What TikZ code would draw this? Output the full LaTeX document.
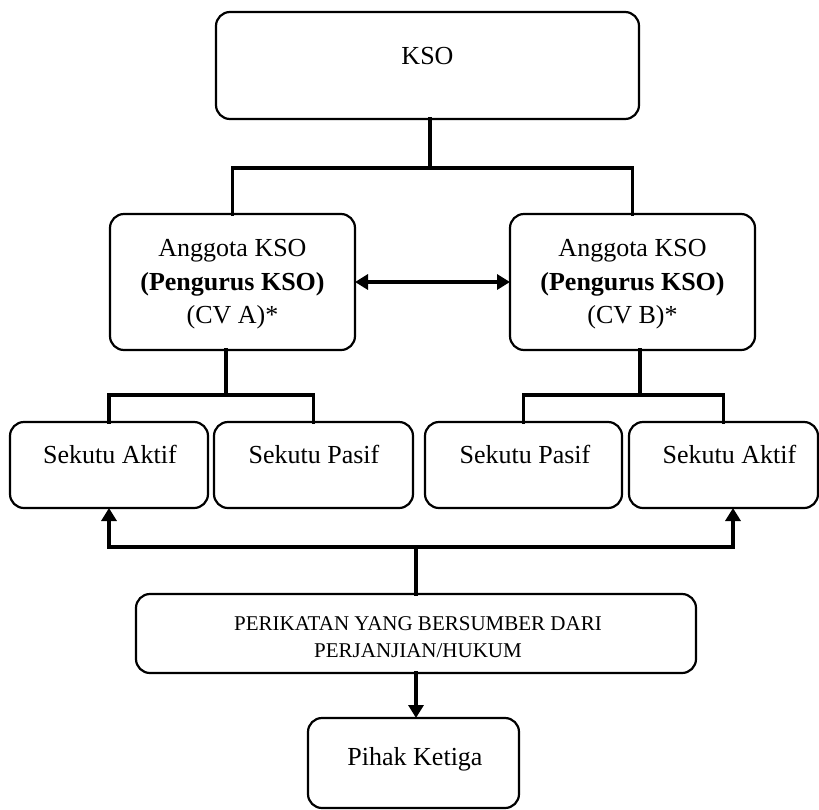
\documentclass[tikz,border=0pt]{standalone}
\usepackage{fontspec}
\setmainfont{Liberation Serif}
\usetikzlibrary{arrows.meta}

\tikzset{
  box/.style={draw=black, line width=2.2pt, rounded corners=14pt, fill=white,
    inner sep=0pt, outer sep=0pt},
  txt/.style={anchor=base, inner sep=0pt, font=\fontsize{26}{31}\selectfont},
  smalltxt/.style={anchor=base, inner sep=0pt, font=\fontsize{21}{27}\selectfont},
  conn/.style={draw=black, line width=3.3pt, line cap=rect},
  arrowconn/.style={conn, -{Triangle[length=13pt,width=15pt]}},
  bothconn/.style={conn, {Triangle[length=13pt,width=15pt]}-{Triangle[length=13pt,width=15pt]}}
}

\begin{document}
\begin{tikzpicture}[x=1pt, y=1pt]
  \useasboundingbox (0,0) rectangle (819,-809);

  % boxes
  \node[box, minimum width=423pt, minimum height=107pt] (kso)  at (427.5,-65.5) {};
  \node[box, minimum width=245pt, minimum height=136pt] (ang1) at (232.5,-282) {};
  \node[box, minimum width=245pt, minimum height=136pt] (ang2) at (632.5,-282) {};
  \node[box, minimum width=198pt, minimum height=86pt]  (sa1)  at (109,-465) {};
  \node[box, minimum width=199pt, minimum height=86pt]  (sp1)  at (313.5,-465) {};
  \node[box, minimum width=197pt, minimum height=86pt]  (sp2)  at (523.5,-465) {};
  \node[box, minimum width=189pt, minimum height=86pt]  (sa2)  at (723.5,-465) {};
  \node[box, minimum width=560pt, minimum height=79pt]  (per)  at (416,-633.5) {};
  \node[box, minimum width=211pt, minimum height=90pt]  (pih)  at (413.5,-763) {};

  % texts
  \node[txt] (tkso) at (427.5,-64) {KSO};
  \node[txt] (ta1) at (232.5,-256) {Anggota KSO};
  \node[txt] (tb1) at (232.5,-290) {\textbf{(Pengurus KSO)}};
  \node[txt] (tc1) at (232.5,-323) {(CV A)*};
  \node[txt] (ta2) at (632.5,-256) {Anggota KSO};
  \node[txt] (tb2) at (632.5,-290) {\textbf{(Pengurus KSO)}};
  \node[txt] (tc2) at (632.5,-323) {(CV B)*};
  \node[txt] (tsa1) at (110,-463) {Sekutu Aktif};
  \node[txt] (tsp1) at (314,-463) {Sekutu Pasif};
  \node[txt] (tsp2) at (525,-463) {Sekutu Pasif};
  \node[txt] (tsa2) at (729.5,-463) {Sekutu Aktif};
  \node[smalltxt] (tper1) at (418,-630) {PERIKATAN YANG BERSUMBER DARI};
  \node[smalltxt] (tper2) at (418,-657) {PERJANJIAN/HUKUM};
  \node[txt] (tpih) at (415,-765) {Pihak Ketiga};

  % junction points
  \coordinate (j1) at (430,-168);
  \coordinate (j2) at (226,-395);
  \coordinate (j3) at (640,-395);
  \coordinate (j4) at (416,-547);
  \coordinate (ra) at (733,-508);

  % KSO to its members
  \draw[conn] (kso.south -| j1) -- (j1);
  \draw[conn] (ang1.north) |- (j1) -| (ang2.north);
  \draw[bothconn] (ang1.east) -- (ang2.west);

  % members to partners
  \draw[conn] (ang1.south -| j2) -- (j2);
  \draw[conn] (sa1.north) |- (j2) -| (sp1.north);
  \draw[conn] (ang2.south -| j3) -- (j3);
  \draw[conn] (sp2.north) |- (j3) -| (sa2.north);

  % obligation links
  \draw[conn] (per.north -| j4) -- (j4);
  \draw[arrowconn] (j4) -| (sa1.south);
  \draw[arrowconn] (j4) -| (ra);
  \draw[arrowconn] (per.south) -- (per.south |- pih.north);
\end{tikzpicture}
\end{document}
